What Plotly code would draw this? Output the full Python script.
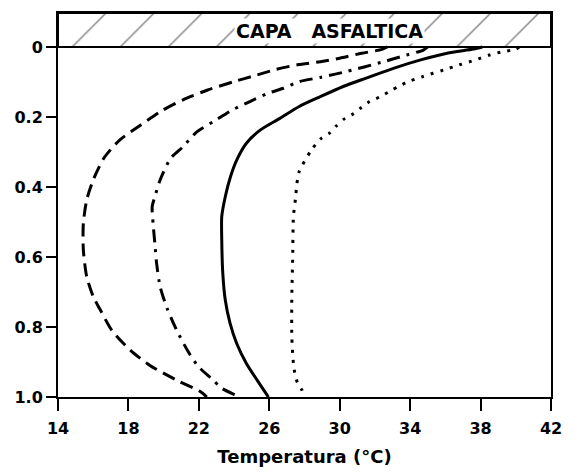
import plotly.graph_objects as go

# ---- data ----
x_ticks = [14, 18, 22, 26, 30, 34, 38, 42]
y_tickvals = [0, 0.2, 0.4, 0.6, 0.8, 1.0]
y_ticktext = ["0", "0.2", "0.4", "0.6", "0.8", "1.0"]

layer_label = "CAPA\u00a0\u00a0\u00a0ASFALTICA"
layer_top = -0.097   # top of the asphalt layer band (depth units)

# dashed curve
depth_a = [0.0, 0.007, 0.018, 0.032, 0.042, 0.051, 0.064, 0.08, 0.099, 0.123, 0.151,
           0.182, 0.223, 0.266, 0.318, 0.38, 0.437, 0.504, 0.58, 0.656, 0.713, 0.751,
           0.809, 0.866, 0.909, 0.951, 0.985, 1.0]
temp_a = [32.7, 32.4, 31.25, 30.0, 28.9, 27.6, 26.4, 25.3, 24.0, 22.5, 21.1,
          19.9, 18.7, 17.5, 16.6, 16.0, 15.63, 15.44, 15.44, 15.63, 16.0, 16.4,
          17.05, 18.1, 19.2, 20.7, 22.1, 22.45]

# dash-dot curve
depth_b = [0.0, 0.009, 0.023, 0.042, 0.07, 0.087, 0.099, 0.118, 0.132, 0.156, 0.18,
           0.211, 0.242, 0.285, 0.318, 0.38, 0.428, 0.456, 0.504, 0.561, 0.618, 0.685,
           0.747, 0.809, 0.871, 0.913, 0.951, 0.975, 0.994, 1.0]
temp_b = [35.0, 34.75, 33.8, 32.5, 30.4, 28.9, 27.7, 26.8, 25.95, 24.9, 23.9,
          22.9, 21.9, 21.1, 20.4, 19.8, 19.5, 19.35, 19.4, 19.5, 19.6, 19.8,
          20.2, 20.74, 21.4, 21.97, 22.8, 23.3, 24.06, 24.3]

# solid curve
depth_c = [0.0, 0.006, 0.018, 0.037, 0.061, 0.089, 0.113, 0.142, 0.17, 0.204, 0.237,
           0.275, 0.323, 0.37, 0.428, 0.485, 0.551, 0.647, 0.723, 0.789, 0.847, 0.904,
           0.951, 1.0]
temp_c = [38.1, 37.6, 36.1, 34.6, 33.05, 31.5, 30.2, 28.9, 27.7, 26.6, 25.5,
          24.7, 24.15, 23.8, 23.5, 23.3, 23.3, 23.36, 23.5, 23.77, 24.15, 24.7,
          25.3, 25.95]

# dotted curve
depth_d = [0.0, 0.007, 0.013, 0.023, 0.032, 0.042, 0.051, 0.066, 0.075, 0.085, 0.097,
           0.111, 0.125, 0.142, 0.156, 0.172, 0.19, 0.204, 0.226, 0.247, 0.261, 0.294,
           0.356, 0.394, 0.428, 0.485, 0.6, 0.713, 0.828, 0.904, 0.937, 0.959, 0.98, 1.0]
temp_d = [40.2, 40.0, 39.3, 38.5, 38.0, 37.4, 36.8, 35.9, 35.3, 34.7, 34.0,
          33.4, 32.9, 32.3, 31.7, 31.25, 30.8, 30.3, 29.8, 29.4, 28.95, 28.4,
          27.7, 27.56, 27.5, 27.37, 27.33, 27.28, 27.28, 27.37, 27.47, 27.6, 27.85, 28.0]

# ---- figure ----
FONT = "DejaVu Sans"
fig = go.Figure()

# hatched asphalt layer band
xmin, xmax = x_ticks[0], x_ticks[-1]
fig.add_trace(go.Scatter(
    x=[xmin, xmax, xmax, xmin, xmin], y=[layer_top, layer_top, 0, 0, layer_top],
    mode="lines", fill="toself", line=dict(color="black", width=2),
    fillcolor="white",
    fillpattern=dict(shape="/", size=34, solidity=0.045, fgcolor="#111111", bgcolor="white"),
    hoverinfo="skip", showlegend=False))

curves = [
    (temp_a, depth_a, "13px,7px"),
    (temp_b, depth_b, "13px,7px,3px,7px"),
    (temp_c, depth_c, "solid"),
    (temp_d, depth_d, "3px,7px"),
]
for t, d, dash in curves:
    fig.add_trace(go.Scatter(
        x=t, y=d, mode="lines",
        line=dict(color="black", width=3, dash=dash, shape="spline", smoothing=0.7),
        showlegend=False))

fig.add_annotation(
    x=29.43, y=-0.046, text=layer_label,
    showarrow=False, font=dict(family=FONT, size=19, color="black", weight="bold"),
    bgcolor="white", borderpad=1)

fig.update_layout(
    width=575, height=473,
    margin=dict(l=58, r=24, t=13, b=76),
    paper_bgcolor="white", plot_bgcolor="white",
    font=dict(family=FONT, color="black"),
)
fig.update_xaxes(
    range=[xmin, xmax], tickvals=x_ticks, ticks="outside", ticklen=12, tickwidth=2,
    tickcolor="black", showline=True, linewidth=2, linecolor="black", mirror=True,
    showgrid=False, zeroline=False, automargin=False,
    tickfont=dict(family=FONT, size=16, weight="bold"),
    ticklabelstandoff=4,
    title=dict(text="Temperatura (°C)", font=dict(family=FONT, size=18, weight="bold"),
               standoff=13),
)
fig.update_yaxes(
    range=[1.0, layer_top], tickvals=y_tickvals, ticktext=y_ticktext,
    ticks="outside", ticklen=10, tickwidth=2, tickcolor="black",
    showline=True, linewidth=2, linecolor="black", mirror=True,
    showgrid=False, zeroline=False, automargin=False,
    tickfont=dict(family=FONT, size=16, weight="bold"),
    ticklabelstandoff=0,
)

fig.write_html("out.html", config={"displayModeBar": False},
               post_script="document.body.style.margin='0';")
